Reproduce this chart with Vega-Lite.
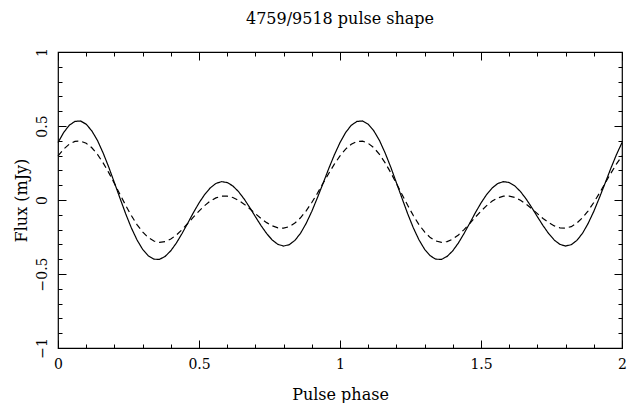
{
"$schema": "https://vega.github.io/schema/vega-lite/v6.json",
"width": 564, "height": 296,
"autosize": {"type": "none"},
"padding": {"left": 58, "top": 52, "right": 6, "bottom": 55},
"background": "white",
"title": {"text": "4759/9518 pulse shape", "font": "DejaVu Serif", "fontSize": 16, "fontWeight": "normal", "color": "black", "offset": 21, "anchor": "middle"},
"config": {
  "view": {"stroke": "black", "strokeWidth": 1.2},
  "axis": {"domain": false, "grid": false, "tickColor": "black", "tickWidth": 1, "labelColor": "black", "titleColor": "black", "labelFont": "DejaVu Serif", "titleFont": "DejaVu Serif", "labelFontSize": 14, "titleFontSize": 16, "titleFontWeight": "normal", "labelFlush": false, "labelOverlap": false, "format": "~g"}
},
"data": {"values": [
{"phase":0,"flux":0.388,"series":"solid"},{"phase":0.02,"flux":0.456,"series":"solid"},{"phase":0.04,"flux":0.505,"series":"solid"},{"phase":0.06,"flux":0.531,"series":"solid"},{"phase":0.08,"flux":0.534,"series":"solid"},{"phase":0.1,"flux":0.512,"series":"solid"},{"phase":0.12,"flux":0.467,"series":"solid"},{"phase":0.14,"flux":0.402,"series":"solid"},{"phase":0.16,"flux":0.318,"series":"solid"},{"phase":0.18,"flux":0.222,"series":"solid"},{"phase":0.2,"flux":0.117,"series":"solid"},{"phase":0.22,"flux":0.011,"series":"solid"},{"phase":0.24,"flux":-0.093,"series":"solid"},{"phase":0.26,"flux":-0.188,"series":"solid"},{"phase":0.28,"flux":-0.269,"series":"solid"},{"phase":0.3,"flux":-0.333,"series":"solid"},{"phase":0.32,"flux":-0.377,"series":"solid"},{"phase":0.34,"flux":-0.4,"series":"solid"},{"phase":0.36,"flux":-0.401,"series":"solid"},{"phase":0.38,"flux":-0.381,"series":"solid"},{"phase":0.4,"flux":-0.343,"series":"solid"},{"phase":0.42,"flux":-0.29,"series":"solid"},{"phase":0.44,"flux":-0.226,"series":"solid"},{"phase":0.46,"flux":-0.157,"series":"solid"},{"phase":0.48,"flux":-0.086,"series":"solid"},{"phase":0.5,"flux":-0.02,"series":"solid"},{"phase":0.52,"flux":0.037,"series":"solid"},{"phase":0.54,"flux":0.082,"series":"solid"},{"phase":0.56,"flux":0.112,"series":"solid"},{"phase":0.58,"flux":0.124,"series":"solid"},{"phase":0.6,"flux":0.118,"series":"solid"},{"phase":0.62,"flux":0.095,"series":"solid"},{"phase":0.64,"flux":0.057,"series":"solid"},{"phase":0.66,"flux":0.007,"series":"solid"},{"phase":0.68,"flux":-0.051,"series":"solid"},{"phase":0.7,"flux":-0.113,"series":"solid"},{"phase":0.72,"flux":-0.173,"series":"solid"},{"phase":0.74,"flux":-0.227,"series":"solid"},{"phase":0.76,"flux":-0.271,"series":"solid"},{"phase":0.78,"flux":-0.3,"series":"solid"},{"phase":0.8,"flux":-0.311,"series":"solid"},{"phase":0.82,"flux":-0.302,"series":"solid"},{"phase":0.84,"flux":-0.273,"series":"solid"},{"phase":0.86,"flux":-0.225,"series":"solid"},{"phase":0.88,"flux":-0.158,"series":"solid"},{"phase":0.9,"flux":-0.077,"series":"solid"},{"phase":0.92,"flux":0.016,"series":"solid"},{"phase":0.94,"flux":0.113,"series":"solid"},{"phase":0.96,"flux":0.212,"series":"solid"},{"phase":0.98,"flux":0.305,"series":"solid"},
{"phase":1,"flux":0.388,"series":"solid"},{"phase":1.02,"flux":0.456,"series":"solid"},{"phase":1.04,"flux":0.505,"series":"solid"},{"phase":1.06,"flux":0.531,"series":"solid"},{"phase":1.08,"flux":0.534,"series":"solid"},{"phase":1.1,"flux":0.512,"series":"solid"},{"phase":1.12,"flux":0.467,"series":"solid"},{"phase":1.14,"flux":0.402,"series":"solid"},{"phase":1.16,"flux":0.318,"series":"solid"},{"phase":1.18,"flux":0.222,"series":"solid"},{"phase":1.2,"flux":0.117,"series":"solid"},{"phase":1.22,"flux":0.011,"series":"solid"},{"phase":1.24,"flux":-0.093,"series":"solid"},{"phase":1.26,"flux":-0.188,"series":"solid"},{"phase":1.28,"flux":-0.269,"series":"solid"},{"phase":1.3,"flux":-0.333,"series":"solid"},{"phase":1.32,"flux":-0.377,"series":"solid"},{"phase":1.34,"flux":-0.4,"series":"solid"},{"phase":1.36,"flux":-0.401,"series":"solid"},{"phase":1.38,"flux":-0.381,"series":"solid"},{"phase":1.4,"flux":-0.343,"series":"solid"},{"phase":1.42,"flux":-0.29,"series":"solid"},{"phase":1.44,"flux":-0.226,"series":"solid"},{"phase":1.46,"flux":-0.157,"series":"solid"},{"phase":1.48,"flux":-0.086,"series":"solid"},{"phase":1.5,"flux":-0.02,"series":"solid"},{"phase":1.52,"flux":0.037,"series":"solid"},{"phase":1.54,"flux":0.082,"series":"solid"},{"phase":1.56,"flux":0.112,"series":"solid"},{"phase":1.58,"flux":0.124,"series":"solid"},{"phase":1.6,"flux":0.118,"series":"solid"},{"phase":1.62,"flux":0.095,"series":"solid"},{"phase":1.64,"flux":0.057,"series":"solid"},{"phase":1.66,"flux":0.007,"series":"solid"},{"phase":1.68,"flux":-0.051,"series":"solid"},{"phase":1.7,"flux":-0.113,"series":"solid"},{"phase":1.72,"flux":-0.173,"series":"solid"},{"phase":1.74,"flux":-0.227,"series":"solid"},{"phase":1.76,"flux":-0.271,"series":"solid"},{"phase":1.78,"flux":-0.3,"series":"solid"},{"phase":1.8,"flux":-0.311,"series":"solid"},{"phase":1.82,"flux":-0.302,"series":"solid"},{"phase":1.84,"flux":-0.273,"series":"solid"},{"phase":1.86,"flux":-0.225,"series":"solid"},{"phase":1.88,"flux":-0.158,"series":"solid"},{"phase":1.9,"flux":-0.077,"series":"solid"},{"phase":1.92,"flux":0.016,"series":"solid"},{"phase":1.94,"flux":0.113,"series":"solid"},{"phase":1.96,"flux":0.212,"series":"solid"},{"phase":1.98,"flux":0.305,"series":"solid"},{"phase":2,"flux":0.388,"series":"solid"},
{"phase":0,"flux":0.298,"series":"dashed"},{"phase":0.02,"flux":0.344,"series":"dashed"},{"phase":0.04,"flux":0.377,"series":"dashed"},{"phase":0.06,"flux":0.396,"series":"dashed"},{"phase":0.08,"flux":0.398,"series":"dashed"},{"phase":0.1,"flux":0.383,"series":"dashed"},{"phase":0.12,"flux":0.353,"series":"dashed"},{"phase":0.14,"flux":0.308,"series":"dashed"},{"phase":0.16,"flux":0.251,"series":"dashed"},{"phase":0.18,"flux":0.185,"series":"dashed"},{"phase":0.2,"flux":0.112,"series":"dashed"},{"phase":0.22,"flux":0.037,"series":"dashed"},{"phase":0.24,"flux":-0.036,"series":"dashed"},{"phase":0.26,"flux":-0.105,"series":"dashed"},{"phase":0.28,"flux":-0.166,"series":"dashed"},{"phase":0.3,"flux":-0.216,"series":"dashed"},{"phase":0.32,"flux":-0.254,"series":"dashed"},{"phase":0.34,"flux":-0.277,"series":"dashed"},{"phase":0.36,"flux":-0.286,"series":"dashed"},{"phase":0.38,"flux":-0.281,"series":"dashed"},{"phase":0.4,"flux":-0.264,"series":"dashed"},{"phase":0.42,"flux":-0.236,"series":"dashed"},{"phase":0.44,"flux":-0.2,"series":"dashed"},{"phase":0.46,"flux":-0.159,"series":"dashed"},{"phase":0.48,"flux":-0.116,"series":"dashed"},{"phase":0.5,"flux":-0.075,"series":"dashed"},{"phase":0.52,"flux":-0.038,"series":"dashed"},{"phase":0.54,"flux":-0.007,"series":"dashed"},{"phase":0.56,"flux":0.014,"series":"dashed"},{"phase":0.58,"flux":0.026,"series":"dashed"},{"phase":0.6,"flux":0.026,"series":"dashed"},{"phase":0.62,"flux":0.017,"series":"dashed"},{"phase":0.64,"flux":-0.002,"series":"dashed"},{"phase":0.66,"flux":-0.028,"series":"dashed"},{"phase":0.68,"flux":-0.059,"series":"dashed"},{"phase":0.7,"flux":-0.092,"series":"dashed"},{"phase":0.72,"flux":-0.125,"series":"dashed"},{"phase":0.74,"flux":-0.153,"series":"dashed"},{"phase":0.76,"flux":-0.175,"series":"dashed"},{"phase":0.78,"flux":-0.188,"series":"dashed"},{"phase":0.8,"flux":-0.19,"series":"dashed"},{"phase":0.82,"flux":-0.18,"series":"dashed"},{"phase":0.84,"flux":-0.156,"series":"dashed"},{"phase":0.86,"flux":-0.12,"series":"dashed"},{"phase":0.88,"flux":-0.073,"series":"dashed"},{"phase":0.9,"flux":-0.017,"series":"dashed"},{"phase":0.92,"flux":0.046,"series":"dashed"},{"phase":0.94,"flux":0.113,"series":"dashed"},{"phase":0.96,"flux":0.179,"series":"dashed"},{"phase":0.98,"flux":0.242,"series":"dashed"},
{"phase":1,"flux":0.298,"series":"dashed"},{"phase":1.02,"flux":0.344,"series":"dashed"},{"phase":1.04,"flux":0.377,"series":"dashed"},{"phase":1.06,"flux":0.396,"series":"dashed"},{"phase":1.08,"flux":0.398,"series":"dashed"},{"phase":1.1,"flux":0.383,"series":"dashed"},{"phase":1.12,"flux":0.353,"series":"dashed"},{"phase":1.14,"flux":0.308,"series":"dashed"},{"phase":1.16,"flux":0.251,"series":"dashed"},{"phase":1.18,"flux":0.185,"series":"dashed"},{"phase":1.2,"flux":0.112,"series":"dashed"},{"phase":1.22,"flux":0.037,"series":"dashed"},{"phase":1.24,"flux":-0.036,"series":"dashed"},{"phase":1.26,"flux":-0.105,"series":"dashed"},{"phase":1.28,"flux":-0.166,"series":"dashed"},{"phase":1.3,"flux":-0.216,"series":"dashed"},{"phase":1.32,"flux":-0.254,"series":"dashed"},{"phase":1.34,"flux":-0.277,"series":"dashed"},{"phase":1.36,"flux":-0.286,"series":"dashed"},{"phase":1.38,"flux":-0.281,"series":"dashed"},{"phase":1.4,"flux":-0.264,"series":"dashed"},{"phase":1.42,"flux":-0.236,"series":"dashed"},{"phase":1.44,"flux":-0.2,"series":"dashed"},{"phase":1.46,"flux":-0.159,"series":"dashed"},{"phase":1.48,"flux":-0.116,"series":"dashed"},{"phase":1.5,"flux":-0.075,"series":"dashed"},{"phase":1.52,"flux":-0.038,"series":"dashed"},{"phase":1.54,"flux":-0.007,"series":"dashed"},{"phase":1.56,"flux":0.014,"series":"dashed"},{"phase":1.58,"flux":0.026,"series":"dashed"},{"phase":1.6,"flux":0.026,"series":"dashed"},{"phase":1.62,"flux":0.017,"series":"dashed"},{"phase":1.64,"flux":-0.002,"series":"dashed"},{"phase":1.66,"flux":-0.028,"series":"dashed"},{"phase":1.68,"flux":-0.059,"series":"dashed"},{"phase":1.7,"flux":-0.092,"series":"dashed"},{"phase":1.72,"flux":-0.125,"series":"dashed"},{"phase":1.74,"flux":-0.153,"series":"dashed"},{"phase":1.76,"flux":-0.175,"series":"dashed"},{"phase":1.78,"flux":-0.188,"series":"dashed"},{"phase":1.8,"flux":-0.19,"series":"dashed"},{"phase":1.82,"flux":-0.18,"series":"dashed"},{"phase":1.84,"flux":-0.156,"series":"dashed"},{"phase":1.86,"flux":-0.12,"series":"dashed"},{"phase":1.88,"flux":-0.073,"series":"dashed"},{"phase":1.9,"flux":-0.017,"series":"dashed"},{"phase":1.92,"flux":0.046,"series":"dashed"},{"phase":1.94,"flux":0.113,"series":"dashed"},{"phase":1.96,"flux":0.179,"series":"dashed"},{"phase":1.98,"flux":0.242,"series":"dashed"},{"phase":2,"flux":0.298,"series":"dashed"}
]},
"resolve": {"axis": {"x": "independent", "y": "independent"}},
"layer": [
  {
    "mark": {"type": "line", "color": "black", "strokeWidth": 1.2},
    "encoding": {
      "x": {"field": "phase", "type": "quantitative", "scale": {"domain": [0, 2], "nice": false, "zero": false},
            "axis": {"orient": "bottom", "values": [0,0.1,0.2,0.3,0.4,0.5,0.6,0.7,0.8,0.9,1,1.1,1.2,1.3,1.4,1.5,1.6,1.7,1.8,1.9,2], "tickSize": -4, "labels": false, "title": null}},
      "y": {"field": "flux", "type": "quantitative", "scale": {"domain": [-1, 1], "nice": false},
            "axis": {"orient": "left", "values": [-1,-0.9,-0.8,-0.7,-0.6,-0.5,-0.4,-0.3,-0.2,-0.1,0,0.1,0.2,0.3,0.4,0.5,0.6,0.7,0.8,0.9,1], "tickSize": -4, "labels": false, "title": null}},
      "strokeDash": {"field": "series", "type": "nominal", "scale": {"domain": ["solid", "dashed"], "range": [[1, 0], [6, 4]]}, "legend": null}
    }
  },
  {
    "mark": {"type": "line", "opacity": 0},
    "encoding": {
      "x": {"field": "phase", "type": "quantitative",
            "axis": {"orient": "bottom", "values": [0,0.5,1,1.5,2], "format": "~g", "tickSize": -8, "labelPadding": 17, "title": "Pulse phase", "titlePadding": 15}},
      "y": {"field": "flux", "type": "quantitative",
            "axis": {"orient": "left", "values": [-1,-0.5,0,0.5,1], "format": "~g", "tickSize": -8, "labelAngle": -90, "labelPadding": 17, "title": "Flux (mJy)", "titlePadding": 6}},
      "detail": {"field": "series"}
    }
  },
  {
    "mark": {"type": "line", "opacity": 0},
    "encoding": {
      "x": {"field": "phase", "type": "quantitative",
            "axis": {"orient": "top", "values": [0,0.1,0.2,0.3,0.4,0.5,0.6,0.7,0.8,0.9,1,1.1,1.2,1.3,1.4,1.5,1.6,1.7,1.8,1.9,2], "tickSize": -4, "labels": false, "title": null}},
      "y": {"field": "flux", "type": "quantitative",
            "axis": {"orient": "right", "values": [-1,-0.9,-0.8,-0.7,-0.6,-0.5,-0.4,-0.3,-0.2,-0.1,0,0.1,0.2,0.3,0.4,0.5,0.6,0.7,0.8,0.9,1], "tickSize": -4, "labels": false, "title": null}},
      "detail": {"field": "series"}
    }
  },
  {
    "mark": {"type": "line", "opacity": 0},
    "encoding": {
      "x": {"field": "phase", "type": "quantitative",
            "axis": {"orient": "top", "values": [0,0.5,1,1.5,2], "tickSize": -8, "labels": false, "title": null}},
      "y": {"field": "flux", "type": "quantitative",
            "axis": {"orient": "right", "values": [-1,-0.5,0,0.5,1], "tickSize": -8, "labels": false, "title": null}},
      "detail": {"field": "series"}
    }
  }
]
}
